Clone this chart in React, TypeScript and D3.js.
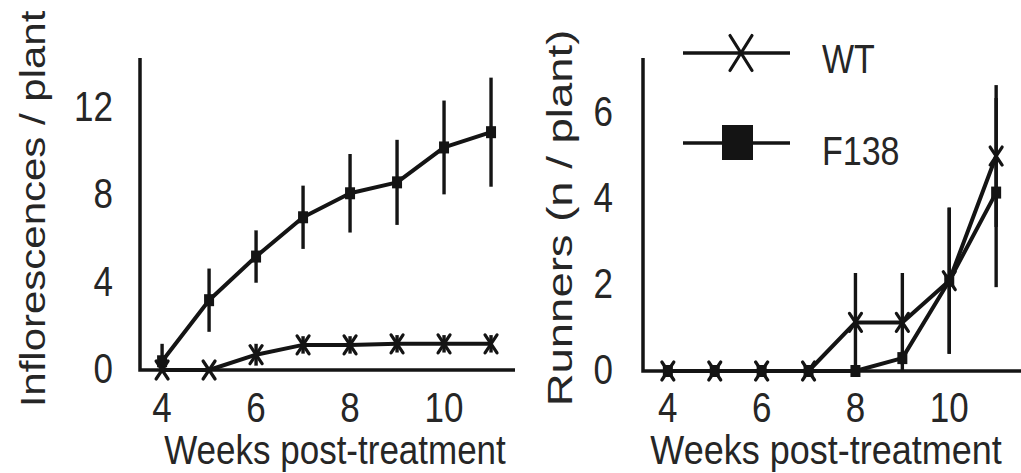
import React from "react";
import * as d3 from "d3";

const weeks = [4, 5, 6, 7, 8, 9, 10, 11];
const inflF138 = [0.4, 3.2, 5.2, 7.0, 8.1, 8.6, 10.2, 10.9];
const inflF138Err = [0.8, 1.45, 1.2, 1.45, 1.8, 1.95, 2.15, 2.5];
const inflWT = [0, 0, 0.7, 1.15, 1.15, 1.2, 1.2, 1.2];
const inflWTErr = [0, 0, 0.5, 0.4, 0.4, 0.4, 0.4, 0.4];
const runWT = [0, 0, 0, 0, 1.13, 1.13, 2.1, 5.0];
const runWTErr = [0, 0, 0, 0, 1.15, 1.15, 1.7, 1.65];
const runF138 = [0, 0, 0, 0, 0, 0.3, 2.1, 4.15];
const runF138Err = [0, 0, 0, 0, 0, 0.15, 1.7, 2.2];
const xTicks = [4, 6, 8, 10];
const inflTicks = [0, 4, 8, 12];
const runTicks = [0, 2, 4, 6];
const legendLabels = ["WT", "F138"];

const FONT = "'Liberation Sans', Arial, Helvetica, sans-serif";
const INK = "#141414";
const TXT = "#262626";

type PanelProps = {
  x0: number; x1: number; y0: number; y1: number;
  yMax: number; xMin: number; xMax: number;
  yTicks: number[];
  wt: number[]; wtErr: number[]; f: number[]; fErr: number[];
  yTitle: string; yTitleX: number; yTitleY: number; yTitleStretch: number;
  tickRight: number; xTitleY: number; xTitleSize: number; xTitleX: number;
};

function XMark({ x, y, w, h }: { x: number; y: number; w: number; h: number }) {
  return (
    <path
      d={`M${x - w / 2},${y - h / 2}L${x + w / 2},${y + h / 2}M${x + w / 2},${y - h / 2}L${x - w / 2},${y + h / 2}`}
      stroke={INK}
      strokeWidth={3.2}
      strokeLinecap="round"
      fill="none"
    />
  );
}

function Panel(p: PanelProps) {
  const xs = d3.scaleLinear().domain([p.xMin, p.xMax]).range([p.x0, p.x1]);
  const ys = d3.scaleLinear().domain([0, p.yMax]).range([p.y0, p.y1]);
  const line = d3
    .line<number>()
    .x((_, i) => xs(weeks[i]))
    .y((d) => ys(d));
  const errBar = (vals: number[], errs: number[], key: string) =>
    vals.map((v, i) =>
      errs[i] > 0 ? (
        <line
          key={key + i}
          x1={xs(weeks[i])}
          x2={xs(weeks[i])}
          y1={ys(Math.max(0, v - errs[i]))}
          y2={ys(v + errs[i])}
          stroke={INK}
          strokeWidth={3.4}
        />
      ) : null
    );
  return (
    <g>
      <path
        d={`M${p.x0},${p.y1}L${p.x0},${p.y0}L${p.x1},${p.y0}`}
        fill="none"
        stroke={INK}
        strokeWidth={3.5}
      />
      {p.yTicks.map((t) => (
        <text
          key={"yt" + t}
          transform={`translate(${p.tickRight},${ys(t) + 13}) scale(1,1.2)`}
          textAnchor="end"
          fontFamily={FONT}
          fontSize={35}
          fill={TXT}
        >
          {t}
        </text>
      ))}
      {xTicks.map((t) => (
        <text
          key={"xt" + t}
          transform={`translate(${xs(t)},422) scale(1,1.2)`}
          textAnchor="middle"
          fontFamily={FONT}
          fontSize={35}
          fill={TXT}
        >
          {t}
        </text>
      ))}
      <text
        transform={`translate(${p.xTitleX},${p.xTitleY}) scale(1,1.15)`}
        textAnchor="middle"
        fontFamily={FONT}
        fontSize={p.xTitleSize}
        fill={TXT}
      >
        Weeks post-treatment
      </text>
      <text
        transform={`translate(${p.yTitleX},${p.yTitleY}) scale(1,${p.yTitleStretch}) rotate(-90)`}
        textAnchor="middle"
        fontFamily={FONT}
        fontSize={35}
        fill={TXT}
      >
        {p.yTitle}
      </text>
      {errBar(p.f, p.fErr, "fe")}
      {errBar(p.wt, p.wtErr, "we")}
      <path d={line(p.f) || ""} fill="none" stroke={INK} strokeWidth={4} strokeLinejoin="round" />
      <path d={line(p.wt) || ""} fill="none" stroke={INK} strokeWidth={4} strokeLinejoin="round" />
      {p.f.map((v, i) => (
        <rect
          key={"fm" + i}
          x={xs(weeks[i]) - 5}
          y={ys(v) - 6}
          width={10}
          height={12}
          fill={INK}
        />
      ))}
      {p.wt.map((v, i) => (
        <XMark key={"wm" + i} x={xs(weeks[i])} y={ys(v)} w={12} h={18} />
      ))}
    </g>
  );
}

export default function App() {
  return (
    <svg
      width={1021}
      height={473}
      style={{ position: "absolute", left: 0, top: 0, background: "#fff" }}
    >
      <rect width={1021} height={473} fill="#fff" />
      <Panel
        x0={140} x1={515} y0={370} y1={58}
        xMin={3.53} xMax={11.51} yMax={14.3}
        yTicks={inflTicks}
        wt={inflWT} wtErr={inflWTErr} f={inflF138} fErr={inflF138Err}
        yTitle="Inflorescences / plant" yTitleX={45} yTitleY={209} yTitleStretch={1.2}
        tickRight={113} xTitleY={464} xTitleSize={35} xTitleX={335}
      />
      <Panel
        x0={643} x1={1021} y0={371} y1={58}
        xMin={3.47} xMax={11.53} yMax={7.28}
        yTicks={runTicks}
        wt={runWT} wtErr={runWTErr} f={runF138} fErr={runF138Err}
        yTitle="Runners (n / plant)" yTitleX={572} yTitleY={218} yTitleStretch={1.3}
        tickRight={613} xTitleY={464} xTitleSize={36} xTitleX={826}
      />
      <g>
        <line x1={683} x2={790} y1={53} y2={53} stroke={INK} strokeWidth={3.5} />
        <XMark x={741} y={53} w={22} h={35} />
        <text transform="translate(822,73) scale(1,1.2)" fontFamily={FONT} fontSize={34} fill={TXT}>
          {legendLabels[0]}
        </text>
        <line x1={683} x2={790} y1={143} y2={143} stroke={INK} strokeWidth={3.5} />
        <rect x={722} y={125} width={31} height={35} fill={INK} />
        <text transform="translate(822,165) scale(1,1.2)" fontFamily={FONT} fontSize={34} fill={TXT}>
          {legendLabels[1]}
        </text>
      </g>
    </svg>
  );
}
